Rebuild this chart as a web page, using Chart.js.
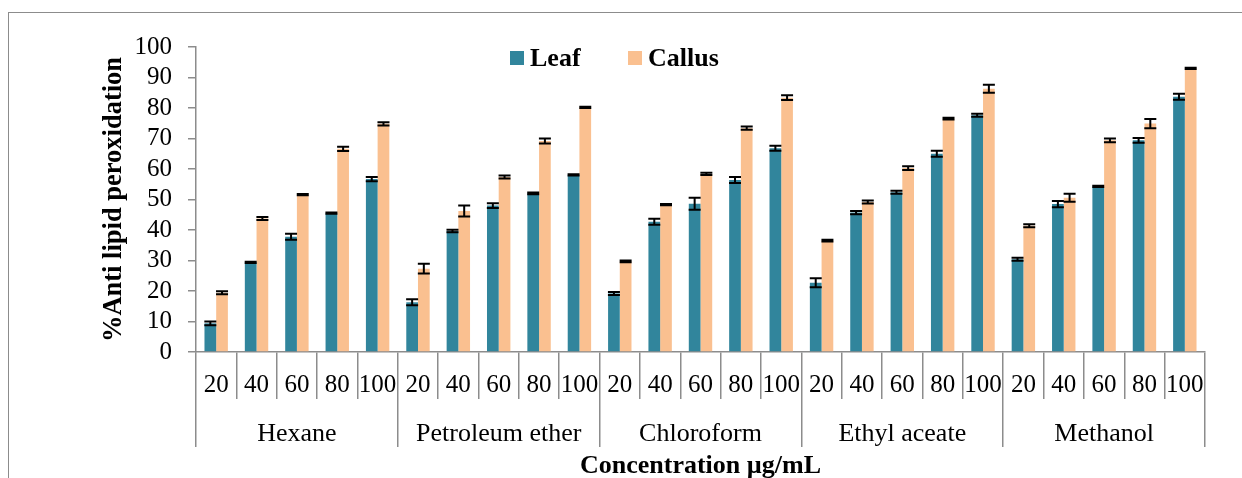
<!DOCTYPE html>
<html lang="en">
<head>
  <meta charset="UTF-8" />
  <title>Anti lipid peroxidation</title>
  <style>
    * { box-sizing: border-box; margin: 0; padding: 0; }
    body { width: 1242px; height: 478px; background: #fff; overflow: hidden; position: relative; font-family: 'Liberation Serif', 'Times New Roman', serif; }
    .frame { position: absolute; left: 8px; top: 12px; width: 1300px; height: 600px; border: 1px solid #8c8c8c; }
    #wrap { position: absolute; left: 0; top: 0; width: 1242px; height: 478px; }
    .legend { position: absolute; top: 44px; font-weight: bold; font-size: 26px; color: #000; line-height: 28px; white-space: nowrap; }
    .legend i { display: inline-block; width: 14px; height: 14px; margin-right: 6px; vertical-align: 1px; }
  </style>
</head>
<body>
  <div class="frame"></div>
  <div id="wrap"><canvas id="chart" width="1242" height="478"></canvas></div>
  <div class="legend" style="left:510px"><i style="background:#31859c"></i>Leaf</div>
  <div class="legend" style="left:628px"><i style="background:#fac090"></i>Callus</div>

  <script src="https://cdn.jsdelivr.net/npm/chart.js"></script>
  <script>
    // solvents and concentrations (µg/mL)
    const solvents = ['Hexane', 'Petroleum ether', 'Chloroform', 'Ethyl aceate', 'Methanol'];
    const concs = ['20', '40', '60', '80', '100'];

    // % anti lipid peroxidation
    const leaf = [
      9.4, 29.4, 37.8, 45.5, 56.7,
      16.3, 39.7, 48.0, 52.0, 58.1,
      19.2, 42.7, 48.6, 56.4, 66.8,
      22.7, 45.7, 52.4, 65.0, 77.6,
      30.4, 48.5, 54.3, 69.4, 83.7
    ];
    const callus = [
      19.4, 43.8, 51.6, 66.6, 74.8,
      27.3, 46.2, 57.4, 69.2, 80.2,
      29.7, 48.3, 58.4, 73.4, 83.4,
      36.5, 49.2, 60.3, 76.5, 86.3,
      41.4, 50.6, 69.4, 74.9, 93.0
    ];
    // error bars (±)
    const leafErr = [
      0.6, 0.2, 1.0, 0.2, 0.7,
      1.0, 0.4, 0.8, 0.3, 0.2,
      0.5, 1.0, 2.0, 1.0, 0.8,
      1.5, 0.5, 0.5, 1.0, 0.5,
      0.5, 1.0, 0.2, 0.8, 1.0
    ];
    const callusErr = [
      0.5, 0.5, 0.2, 0.7, 0.5,
      1.6, 1.8, 0.5, 0.8, 0.2,
      0.3, 0.2, 0.4, 0.5, 0.8,
      0.3, 0.5, 0.6, 0.3, 1.3,
      0.5, 1.3, 0.6, 1.5, 0.2
    ];
    const yTicks = [0, 10, 20, 30, 40, 50, 60, 70, 80, 90, 100];

    const labels = [];
    solvents.forEach(() => concs.forEach(c => labels.push(c)));

    const axisGrey = '#8c8c8c';

    // draws the ± error bars on top of the bars
    const errorBars = {
      id: 'errorBars',
      afterDatasetsDraw(chart) {
        const ctx = chart.ctx;
        const y = chart.scales.y;
        const errs = [leafErr, callusErr];
        const vals = [leaf, callus];
        ctx.save();
        ctx.strokeStyle = '#000';
        ctx.lineWidth = 2;
        chart.data.datasets.forEach((ds, di) => {
          chart.getDatasetMeta(di).data.forEach((bar, i) => {
            const v = vals[di][i], e = errs[di][i];
            const top = y.getPixelForValue(v + e);
            const bot = y.getPixelForValue(v - e);
            const x = bar.x;
            ctx.beginPath();
            ctx.moveTo(x, top); ctx.lineTo(x, bot);
            ctx.moveTo(x - 6, top); ctx.lineTo(x + 6, top);
            ctx.moveTo(x - 6, bot); ctx.lineTo(x + 6, bot);
            ctx.stroke();
          });
        });
        ctx.restore();
      }
    };

    const ctx = document.getElementById('chart').getContext('2d');
    new Chart(ctx, {
      type: 'bar',
      data: {
        labels: labels,
        datasets: [
          { label: 'Leaf', data: leaf, backgroundColor: '#31859c' },
          { label: 'Callus', data: callus, backgroundColor: '#fac090' }
        ]
      },
      options: {
        responsive: false,
        animation: false,
        layout: { padding: { left: 0, top: 47, right: 37, bottom: 0 } },
        datasets: { bar: { categoryPercentage: 0.58, barPercentage: 1.0 } },
        plugins: { legend: { display: false }, tooltip: { enabled: false } },
        scales: {
          y: {
            min: 0, max: 100,
            afterBuildTicks: s => { s.ticks = yTicks.map(v => ({ value: v })); },
            afterFit: s => { s.width = 196; },
            border: { display: true, color: axisGrey, width: 1.5 },
            grid: { drawOnChartArea: false, tickLength: 8, color: axisGrey, lineWidth: 1.5 },
            ticks: { color: '#000', padding: 16, autoSkip: false, font: { family: 'Liberation Serif', size: 25 } },
            title: {
              display: true, text: '%Anti lipid peroxidation', color: '#000',
              font: { family: 'Liberation Serif', size: 26.5, weight: 'bold' },
              padding: { top: 98, bottom: 0 }
            }
          },
          x: {
            weight: 0,
            afterFit: s => { s.height = 47; },
            border: { display: true, color: axisGrey, width: 1.5 },
            grid: { offset: true, drawOnChartArea: false, tickLength: 47, color: axisGrey, lineWidth: 1.5 },
            ticks: { color: '#000', padding: -29, maxRotation: 0, autoSkip: false, font: { family: 'Liberation Serif', size: 25 } }
          },
          x2: {
            type: 'category',
            labels: solvents,
            offset: true,
            weight: 1,
            afterFit: s => { s.height = 79; },
            border: { display: false },
            grid: { offset: true, drawOnChartArea: false, tickLength: 48, color: axisGrey, lineWidth: 1.5 },
            ticks: { color: '#000', padding: -28, maxRotation: 0, autoSkip: false, font: { family: 'Liberation Serif', size: 26 } },
            title: {
              display: true, text: 'Concentration µg/mL', color: '#000',
              font: { family: 'Liberation Serif', size: 26, weight: 'bold' },
              padding: { top: 0, bottom: -4 }
            }
          }
        }
      },
      plugins: [errorBars]
    });
  </script>
</body>
</html>
